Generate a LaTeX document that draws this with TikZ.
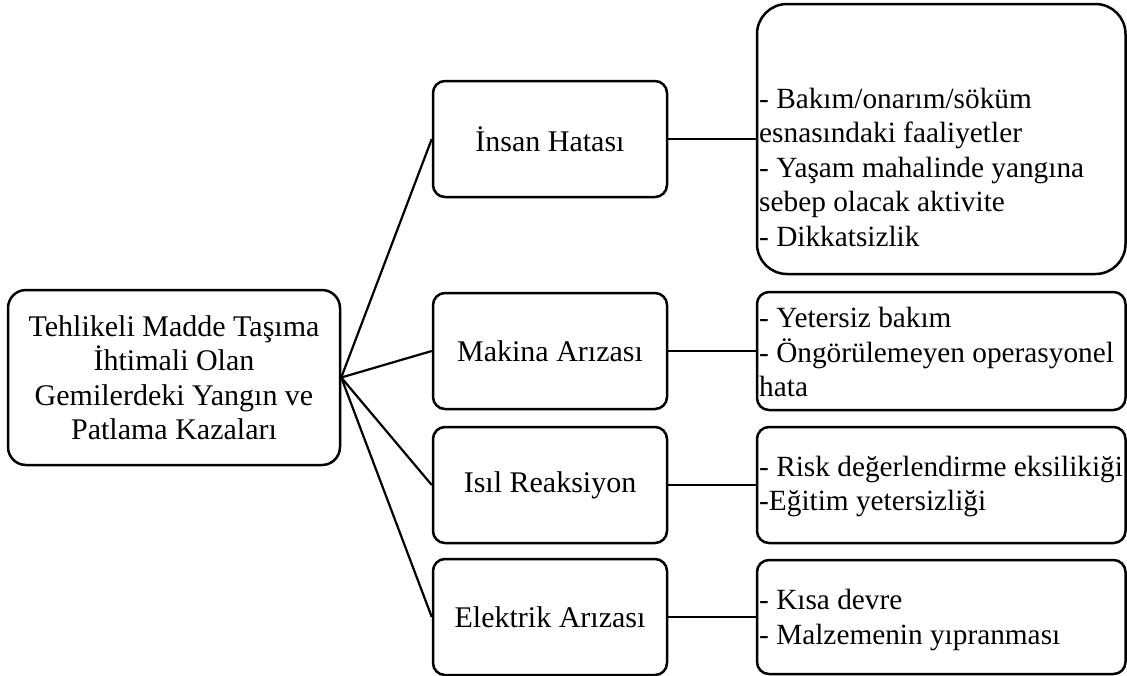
\documentclass[tikz,border=0pt]{standalone}
\usepackage{fontspec}
\setmainfont{Liberation Serif}
\begin{document}
\begin{tikzpicture}[x=1pt,y=-1pt,
  box/.style={draw, line width=2.5pt, rounded corners=12pt, inner sep=0pt},
  wire/.style={line width=2.2pt},
  txt/.style={font=\fontsize{30}{34.5}\selectfont, inner sep=0pt},
  rtxt/.style={font=\fontsize{29.3}{34.5}\selectfont, inner sep=0pt, anchor=west, align=left},
  midbox/.style={box, txt, minimum width=234pt, minimum height=116pt, align=center},
  rbox/.style={box, minimum width=368.5pt}]
\useasboundingbox (0,0) rectangle (1127,675);
% root
\node[box, txt, rounded corners=18pt, minimum width=332pt, minimum height=175pt, align=center] (root) at (174,377.5)
  {Tehlikeli Madde Taşıma\\İhtimali Olan\\Gemilerdeki Yangın ve\\Patlama Kazaları};
% middle boxes
\node[midbox] (m1) at (550,139) {İnsan Hatası};
\node[midbox] (m2) at (550,351) {Makina Arızası};
\node[midbox] (m3) at (550,485) {Isıl Reaksiyon};
\node[midbox] (m4) at (550,617) {Elektrik Arızası};
% right boxes
\node[rbox, rounded corners=30pt, minimum height=270pt] (r1) at (941.25,139) {};
\node[rbox, minimum height=118pt] (r2) at (941.25,351) {};
\node[rbox, minimum height=116pt] (r3) at (941.25,485) {};
\node[rbox, minimum height=114pt] (r4) at (941.25,617) {};
% right texts
\node[rtxt] (t1) at (759,167)
  {- Bakım/onarım/söküm\\esnasındaki faaliyetler\\- Yaşam mahalinde yangına\\sebep olacak aktivite\\- Dikkatsizlik};
\node[rtxt] (t2) at (759,352)
  {- Yetersiz bakım\\- Öngörülemeyen operasyonel\\hata};
\node[rtxt] (t3) at (759,486.5)
  {- Risk değerlendirme eksilikiği\\-Eğitim yetersizliği};
\node[rtxt] (t4) at (759,620)
  {- Kısa devre\\- Malzemenin yıpranması};
% connectors
\foreach \m in {m1,m2,m3,m4} \draw[wire] (root.east) -- (\m.west);
\draw[wire] (m1.east) -- (r1.west);
\draw[wire] (m2.east) -- (r2.west);
\draw[wire] (m3.east) -- (r3.west);
\draw[wire] (m4.east) -- (r4.west);
\end{tikzpicture}
\end{document}
